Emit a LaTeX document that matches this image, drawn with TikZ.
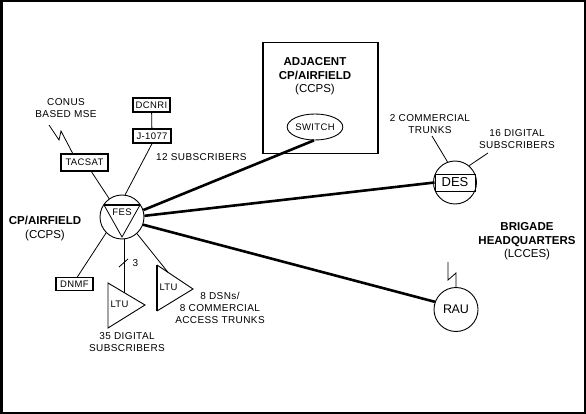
\documentclass[tikz,border=0pt]{standalone}
\usepackage{fontspec}
\setmainfont{Liberation Sans}
\newfontfamily\spc[LetterSpace=4]{Liberation Sans}
\usetikzlibrary{shapes.geometric,calc}
\begin{document}
\begin{tikzpicture}[x=1pt,y=-1pt,
  lbl/.style={font=\spc\fontsize{10}{12}\selectfont,align=center,inner sep=0pt},
  blbl/.style={font=\fontsize{11.5}{13.5}\selectfont\bfseries,align=center,inner sep=0pt},
  box/.style={draw,line width=1.4pt,font=\spc\fontsize{9.5}{10}\selectfont,minimum width=37pt,minimum height=14pt,inner sep=1pt},
  thin/.style={line width=0.8pt},
  thick line/.style={line width=2.6pt},
  circ/.style={draw,circle,line width=0.9pt,minimum size=44pt,inner sep=0pt},
  tri/.style={line width=0.9pt,line join=miter},
  small/.style={font=\spc\fontsize{9.5}{10}\selectfont,inner sep=0pt}]
\useasboundingbox (0,0) rectangle (586,414);
\draw[line width=2.5pt] (1.25,1.25) rectangle (584.75,412.75);
% FES
\node[circ] (fes) at (122,217) {};
\coordinate (t1) at (104,205);
\coordinate (t2) at (140,205);
\coordinate (t3) at (122,237);
\draw[thin] (t1) -- (t3) -- (t2);
\draw[line width=1.6pt] (t1) -- (t2);
\node[small] (fest) at (122,212) {FES};
\node[blbl] (cpa) at (45,228.5) {CP/AIRFIELD\\{\mdseries (CCPS)}};
% TACSAT
\node[box,minimum width=47pt,minimum height=17pt] (tac) at (84.5,162.5) {TACSAT};
\node[lbl] (conus) at (66,108.5) {CONUS\\BASED MSE};
\coordinate (z1) at (49,125);
\coordinate (z2) at (59,140);
\coordinate (z3) at (61,131);
\coordinate (z4) at (73,154);
\draw[thin] (z1) -- (z2) -- (z3) -- (z4);
\coordinate (tacs) at (91,171);
\draw[thin] (tacs) -- (fes.125);
% DCNRI / J-1077
\node[box] (dcnri) at (151.5,105) {DCNRI};
\node[box,minimum width=38pt] (j) at (152,136) {J-1077};
\draw[thin] (dcnri) -- (j);
\draw[thin] (j.south) -- (fes.82);
\node[lbl,anchor=west] (subs12) at (156,157) {12 SUBSCRIBERS};
% DNMF
\node[box,minimum height=13pt] (dnmf) at (74.5,284) {DNMF};
\coordinate (dn) at (77,277.5);
\draw[thin] (dn) -- (fes.225);
% LTU 1
\coordinate (a1) at (108,283);
\coordinate (a2) at (108,328);
\coordinate (a3) at (145,305);
\draw[tri] (a1) -- (a2) -- (a3) -- cycle;
\node[small] (ltu1) at (119.5,304) {LTU};
\coordinate (fb) at (124,239);
\coordinate (l1) at (124,292.5);
\draw[thin] (fb) -- (l1);
\coordinate (s1) at (119,267);
\coordinate (s2) at (128,259);
\draw[thin] (s1) -- (s2);
\node[lbl] (three) at (135.5,263) {3};
\node[lbl] (dig35) at (127,342) {35 DIGITAL\\SUBSCRIBERS};
% LTU 2
\coordinate (b1) at (157,265);
\coordinate (b2) at (157,311);
\coordinate (b3) at (193,289);
\draw[tri] (b1) -- (b3) -- (b2);
\draw[line width=1.4pt] (b1) -- (b2);
\node[small] (ltu2) at (168.5,287) {LTU};
\coordinate (l2) at (168,272.3);
\draw[thin] (fes.-48) -- (l2);
\node[lbl] (dsn) at (220,307.5) {8 DSNs/\\8 COMMERCIAL\\ACCESS TRUNKS};
% Adjacent
\node[draw,line width=1.3pt,minimum width=115pt,minimum height=111pt] (adj) at (320.5,98) {};
\node[blbl,text depth=0pt] (adjt) at (315,75) {ADJACENT\\CP/AIRFIELD\\{\mdseries (CCPS)}};
\node[draw,ellipse,line width=0.9pt,minimum width=54pt,minimum height=26pt,inner sep=0pt,font=\spc\fontsize{9.5}{10}\selectfont] (sw) at (315,127) {SWITCH};
% DES
\node[circ,minimum size=43pt] (des) at (455,182.5) {};
\node[draw,line width=0.9pt,minimum width=40pt,minimum height=17pt,inner sep=0pt,font=\fontsize{13}{14}\selectfont] (desb) at (455,182.5) {DES};
\node[lbl] (ct) at (430,124.5) {2 COMMERCIAL\\TRUNKS};
\node[lbl] (d16) at (517,139) {16 DIGITAL\\SUBSCRIBERS};
\coordinate (c1) at (432,136);
\coordinate (c2) at (488,153);
\draw[thin] (c1) -- (des.110);
\draw[thin] (c2) -- (des.50);
% RAU
\node[circ,font=\fontsize{12.5}{13}\selectfont] (rau) at (456,309.5) {R\kern-0.5pt AU};
\coordinate (r1) at (448,262);
\coordinate (r2) at (448,280);
\coordinate (r3) at (456,273);
\draw[thin] (r1) -- (r2) -- (r3) -- (rau.north);
\node[blbl] (brig) at (527,241.5) {BRIGADE\\HEADQUARTERS\\{\mdseries (LCCES)}};
% thick links
\draw[thick line] (fes.18) -- (sw.-95);
\draw[thick line] (fes.3) -- (desb.west);
\draw[thick line] (fes.-20) -- (rau.160);
\end{tikzpicture}
\end{document}
